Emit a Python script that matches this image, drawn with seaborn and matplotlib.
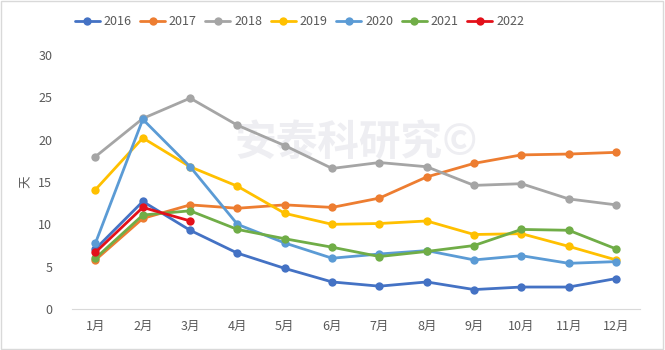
import pandas as pd
import numpy as np
import matplotlib.pyplot as plt
import seaborn as sns
from matplotlib.patches import Rectangle

months = ["1月", "2月", "3月", "4月", "5月", "6月", "7月", "8月", "9月", "10月", "11月", "12月"]
years = ["2016", "2017", "2018", "2019", "2020", "2021", "2022"]

d2016 = [7.1, 12.7, 9.3, 6.6, 4.8, 3.2, 2.7, 3.2, 2.3, 2.6, 2.6, 3.6]
d2017 = [5.8, 10.7, 12.3, 11.9, 12.3, 12.0, 13.1, 15.6, 17.2, 18.2, 18.3, 18.5]
d2018 = [18.0, 22.5, 24.9, 21.7, 19.3, 16.6, 17.3, 16.8, 14.6, 14.8, 13.0, 12.3]
d2019 = [14.1, 20.2, 16.8, 14.5, 11.3, 10.0, 10.1, 10.4, 8.8, 8.9, 7.4, 5.8]
d2020 = [7.8, 22.4, 16.8, 10.0, 7.8, 6.0, 6.5, 6.9, 5.8, 6.3, 5.4, 5.6]
d2021 = [6.0, 11.1, 11.6, 9.4, 8.3, 7.3, 6.2, 6.8, 7.5, 9.4, 9.3, 7.1]
d2022 = [6.7, 12.0, 10.4]

series = [d2016, d2017, d2018, d2019, d2020, d2021, d2022]
colors = ["#4472C4", "#ED7D31", "#A5A5A5", "#FFC000", "#5B9BD5", "#70AD47", "#E3101A"]

rows = []
for yr, vals in zip(years, series):
    for m, v in enumerate(vals):
        rows.append({"year": yr, "month": m, "days": v})
df = pd.DataFrame(rows)

sns.set_style("white")
plt.rcParams['font.family'] = ['Noto Sans CJK SC', 'DejaVu Sans']

fig = plt.figure(figsize=(6.65, 3.5), dpi=100)
ax = fig.add_axes([0.108, 0.117, 0.854, 0.726])

# faint watermark behind the lines
ax.text(0.5, 0.65, "安泰科研究©", transform=ax.transAxes, fontsize=30,
        color="#EEEEF2", ha="center", va="center", fontweight="bold", zorder=0)

sns.lineplot(data=df, x="month", y="days", hue="year", palette=colors,
             marker="o", markersize=6, markeredgewidth=0, linewidth=2, ax=ax)

ax.set_xlim(-0.5, 11.5)
ax.set_ylim(0, 30)
ax.set_yticks(range(0, 31, 5))
ax.set_xticks(range(12))
ax.set_xticklabels(months)
ax.tick_params(axis="both", colors="#595959", labelsize=9, length=0)
ax.tick_params(axis="x", pad=8)
ax.tick_params(axis="y", pad=14)
for s in ["top", "right", "left"]:
    ax.spines[s].set_visible(False)
ax.spines["bottom"].set_color("#D9D9D9")
ax.set_xlabel("")
ax.set_ylabel("天", color="#595959", fontsize=9, rotation=90, labelpad=4)

ax.legend(loc="center left", bbox_to_anchor=(-0.015, 1.13), ncol=7, frameon=False,
          fontsize=9, handlelength=2.0, columnspacing=0.7, handletextpad=0.3,
          labelcolor="#595959", title=None)

fig.patches.append(Rectangle((0.002, 0.003), 0.995, 0.993, transform=fig.transFigure,
                             fill=False, edgecolor="#D9D9D9", linewidth=1))

fig.savefig("out.png", dpi=100)
